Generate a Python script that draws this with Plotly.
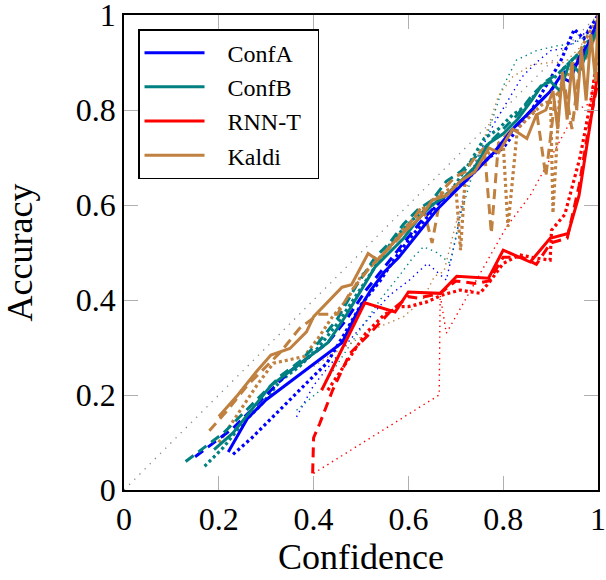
import plotly.graph_objects as go

# reliability curves: confidence (x) vs accuracy (y), four systems x four settings
systems = ["ConfA", "ConfB", "RNN-T", "Kaldi"]
colors = {"ConfA": "#0000ff", "ConfB": "#008080", "RNN-T": "#ff0000", "Kaldi": "#bf8040"}

# ---- ConfA ----
confa_solid_x = [0.22, 0.26, 0.30, 0.34, 0.38, 0.42, 0.46, 0.49, 0.52, 0.55, 0.58, 0.62, 0.66, 0.70,
                 0.74, 0.78, 0.82, 0.85, 0.88, 0.90, 0.92, 0.94, 0.96, 0.98, 1.0]
confa_solid_y = [0.08, 0.15, 0.19, 0.22, 0.25, 0.28, 0.31, 0.37, 0.42, 0.46, 0.49, 0.54, 0.59, 0.63,
                 0.67, 0.71, 0.76, 0.79, 0.82, 0.84, 0.87, 0.86, 0.91, 0.94, 0.99]
confa_dash_x = [0.15, 0.19, 0.23, 0.27, 0.31, 0.35, 0.39, 0.43, 0.47, 0.51, 0.55, 0.59, 0.63, 0.67,
                0.71, 0.75, 0.79, 0.83, 0.87, 0.90, 0.93, 0.96, 0.98, 1.0]
confa_dash_y = [0.07, 0.10, 0.13, 0.17, 0.21, 0.25, 0.28, 0.31, 0.36, 0.42, 0.47, 0.52, 0.57, 0.61,
                0.64, 0.68, 0.72, 0.77, 0.81, 0.84, 0.88, 0.90, 0.93, 0.98]
confa_dot_x = [0.23, 0.27, 0.30, 0.336, 0.37, 0.40, 0.428, 0.46, 0.50, 0.54, 0.58, 0.62, 0.66, 0.70,
               0.74, 0.77, 0.80, 0.83, 0.86, 0.89, 0.92, 0.95, 0.97, 1.0]
confa_dot_y = [0.075, 0.11, 0.14, 0.175, 0.21, 0.24, 0.267, 0.32, 0.39, 0.44, 0.50, 0.55, 0.60, 0.64,
               0.67, 0.70, 0.72, 0.76, 0.80, 0.85, 0.90, 0.97, 0.95, 1.0]
confa_thin_x = [0.364, 0.40, 0.44, 0.48, 0.52, 0.56, 0.60, 0.64, 0.68, 0.70, 0.72, 0.75, 0.78, 0.81,
                0.84, 0.87, 0.90, 0.93, 0.96, 0.98, 1.0]
confa_thin_y = [0.154, 0.22, 0.27, 0.32, 0.365, 0.41, 0.44, 0.477, 0.442, 0.53, 0.64, 0.71, 0.77, 0.82,
                0.87, 0.90, 0.925, 0.93, 0.95, 0.97, 1.0]

# ---- ConfB ----
confb_solid_x = [0.19, 0.23, 0.27, 0.31, 0.35, 0.39, 0.43, 0.47, 0.50, 0.53, 0.56, 0.59, 0.62, 0.65,
                 0.68, 0.71, 0.74, 0.77, 0.80, 0.83, 0.86, 0.88, 0.90, 0.92, 0.94, 0.96, 0.98, 1.0]
confb_solid_y = [0.085, 0.12, 0.17, 0.22, 0.25, 0.28, 0.31, 0.37, 0.42, 0.47, 0.50, 0.53, 0.57, 0.60,
                 0.62, 0.65, 0.68, 0.73, 0.75, 0.78, 0.82, 0.85, 0.86, 0.84, 0.90, 0.88, 0.93, 0.97]
confb_dash_x = [0.13, 0.17, 0.21, 0.25, 0.29, 0.33, 0.37, 0.41, 0.45, 0.49, 0.53, 0.56, 0.59, 0.62,
                0.65, 0.68, 0.71, 0.74, 0.77, 0.80, 0.83, 0.86, 0.89, 0.92, 0.95, 0.98, 1.0]
confb_dash_y = [0.06, 0.09, 0.12, 0.16, 0.20, 0.24, 0.27, 0.31, 0.36, 0.43, 0.49, 0.52, 0.56, 0.59,
                0.61, 0.65, 0.67, 0.70, 0.73, 0.76, 0.79, 0.83, 0.86, 0.88, 0.91, 0.93, 0.98]
confb_dot_x = [0.17, 0.21, 0.25, 0.29, 0.33, 0.37, 0.41, 0.45, 0.49, 0.53, 0.57, 0.61, 0.65, 0.69,
               0.73, 0.76, 0.79, 0.82, 0.85, 0.88, 0.91, 0.94, 0.97, 1.0]
confb_dot_y = [0.05, 0.09, 0.14, 0.18, 0.23, 0.26, 0.30, 0.35, 0.41, 0.47, 0.53, 0.57, 0.60, 0.63,
               0.69, 0.74, 0.76, 0.79, 0.81, 0.85, 0.87, 0.90, 0.93, 0.98]
confb_thin_x = [0.364, 0.414, 0.46, 0.50, 0.54, 0.58, 0.61, 0.632, 0.66, 0.688, 0.71, 0.74, 0.772, 0.80,
                0.828, 0.87, 0.913, 0.95, 0.98, 1.0]
confb_thin_y = [0.168, 0.21, 0.28, 0.34, 0.40, 0.45, 0.49, 0.512, 0.50, 0.477, 0.58, 0.68, 0.765, 0.85,
                0.905, 0.925, 0.935, 0.94, 0.96, 1.0]

# ---- RNN-T ----
rnnt_solid_x = [0.417, 0.508, 0.572, 0.60, 0.667, 0.702, 0.769, 0.80, 0.857, 0.899, 0.937, 0.96, 0.985, 1.0]
rnnt_solid_y = [0.21, 0.394, 0.375, 0.417, 0.414, 0.45, 0.446, 0.505, 0.48, 0.53, 0.54, 0.62, 0.78, 0.88]
rnnt_dash_x = [0.398, 0.40, 0.413, 0.44, 0.477, 0.519, 0.565, 0.60, 0.62, 0.667, 0.70, 0.74, 0.77, 0.80,
               0.84, 0.87, 0.90, 0.935, 0.96, 0.98, 1.0]
rnnt_dash_y = [0.035, 0.11, 0.14, 0.21, 0.288, 0.33, 0.379, 0.407, 0.404, 0.414, 0.44, 0.435, 0.44, 0.49,
               0.49, 0.475, 0.52, 0.53, 0.64, 0.76, 0.86]
rnnt_dot_x = [0.43, 0.47, 0.51, 0.55, 0.582, 0.60, 0.639, 0.67, 0.709, 0.751, 0.772, 0.80, 0.835, 0.87,
              0.899, 0.902, 0.93, 0.962, 0.985, 1.0]
rnnt_dot_y = [0.21, 0.27, 0.33, 0.37, 0.386, 0.386, 0.396, 0.41, 0.421, 0.414, 0.439, 0.477, 0.495, 0.488,
              0.484, 0.547, 0.58, 0.70, 0.82, 0.92]
rnnt_thin_x = [0.40, 0.665, 0.667, 0.68, 0.807, 0.857, 0.955, 0.985, 1.0]
rnnt_thin_y = [0.035, 0.20, 0.41, 0.33, 0.554, 0.62, 0.80, 0.815, 0.95]

# ---- Kaldi ----
kaldi_solid_x = [0.20, 0.24, 0.28, 0.31, 0.35, 0.385, 0.40, 0.435, 0.46, 0.48, 0.515, 0.535, 0.56, 0.58,
                 0.61, 0.63, 0.65, 0.68, 0.71, 0.74, 0.77, 0.79, 0.82, 0.85, 0.87, 0.89, 0.905, 0.915,
                 0.925, 0.935, 0.945, 0.955, 0.965, 0.975, 0.985, 0.995, 1.0]
kaldi_solid_y = [0.155, 0.20, 0.25, 0.284, 0.298, 0.333, 0.365, 0.40, 0.427, 0.432, 0.498, 0.484, 0.51, 0.533,
                 0.56, 0.58, 0.61, 0.62, 0.65, 0.67, 0.72, 0.71, 0.76, 0.74, 0.79, 0.80, 0.84, 0.76,
                 0.88, 0.78, 0.90, 0.80, 0.93, 0.82, 0.96, 0.86, 1.0]
kaldi_dash_x = [0.18, 0.22, 0.26, 0.30, 0.33, 0.37, 0.41, 0.45, 0.48, 0.52, 0.55, 0.58, 0.61, 0.63,
                0.65, 0.67, 0.70, 0.72, 0.74, 0.76, 0.775, 0.79, 0.81, 0.83, 0.85, 0.87, 0.89, 0.91,
                0.93, 0.945, 0.96, 0.98, 1.0]
kaldi_dash_y = [0.125, 0.17, 0.22, 0.26, 0.29, 0.34, 0.37, 0.37, 0.42, 0.47, 0.50, 0.53, 0.57, 0.60,
                0.52, 0.63, 0.66, 0.67, 0.70, 0.72, 0.54, 0.73, 0.75, 0.77, 0.79, 0.80, 0.66, 0.83,
                0.85, 0.76, 0.88, 0.92, 0.97]
kaldi_dot_x = [0.20, 0.24, 0.28, 0.315, 0.35, 0.38, 0.41, 0.44, 0.47, 0.50, 0.53, 0.56, 0.59, 0.62,
               0.65, 0.68, 0.70, 0.71, 0.72, 0.74, 0.77, 0.79, 0.80, 0.81, 0.83, 0.86, 0.88, 0.90,
               0.905, 0.92, 0.94, 0.96, 0.98, 1.0]
kaldi_dot_y = [0.10, 0.16, 0.22, 0.267, 0.275, 0.281, 0.32, 0.365, 0.40, 0.45, 0.48, 0.51, 0.55, 0.58,
               0.61, 0.63, 0.64, 0.505, 0.66, 0.68, 0.71, 0.72, 0.73, 0.554, 0.76, 0.79, 0.81, 0.82,
               0.583, 0.85, 0.88, 0.92, 0.96, 0.99]
kaldi_thin_x = [0.40, 0.43, 0.48, 0.53, 0.59, 0.63, 0.655, 0.675, 0.70, 0.73, 0.76, 0.79, 0.82, 0.86,
                0.90, 0.93, 0.96, 0.98, 1.0]
kaldi_thin_y = [0.26, 0.28, 0.31, 0.34, 0.365, 0.40, 0.45, 0.46, 0.56, 0.66, 0.74, 0.83, 0.87, 0.895,
                0.90, 0.90, 0.93, 0.96, 0.99]

# perfect calibration
diag_x = [0, 1]
diag_y = [0, 1]

ticks = [0, 0.2, 0.4, 0.6, 0.8, 1]
tick_text = ["0", "0.2", "0.4", "0.6", "0.8", "1"]

series = {
    "ConfA": [(confa_solid_x, confa_solid_y), (confa_dash_x, confa_dash_y),
              (confa_dot_x, confa_dot_y), (confa_thin_x, confa_thin_y)],
    "ConfB": [(confb_solid_x, confb_solid_y), (confb_dash_x, confb_dash_y),
              (confb_dot_x, confb_dot_y), (confb_thin_x, confb_thin_y)],
    "RNN-T": [(rnnt_solid_x, rnnt_solid_y), (rnnt_dash_x, rnnt_dash_y),
              (rnnt_dot_x, rnnt_dot_y), (rnnt_thin_x, rnnt_thin_y)],
    "Kaldi": [(kaldi_solid_x, kaldi_solid_y), (kaldi_dash_x, kaldi_dash_y),
              (kaldi_dot_x, kaldi_dot_y), (kaldi_thin_x, kaldi_thin_y)],
}
# (width, dash) for solid / dashed / thick dotted / thin dotted
styles = [(3, "solid"), (3, "10px,6px"), (3.2, "3px,3px"), (1.4, "1.4px,4px")]

NB = "\u00a0"

fig = go.Figure()
fig.add_trace(go.Scatter(x=diag_x, y=diag_y, mode="lines", showlegend=False,
                         line=dict(color="#888888", width=1.3, dash="1.3px,6px")))

for k in [3, 2, 1, 0]:
    for rank, name in enumerate(systems):
        xs, ys = series[name][k]
        width, dash = styles[k]
        fig.add_trace(go.Scatter(
            x=xs, y=ys, mode="lines",
            name=NB * 3 + name + NB * 2,
            line=dict(color=colors[name], width=width, dash=dash),
            showlegend=(k == 0), legendrank=rank + 1,
        ))

axis_common = dict(
    range=[0, 1], tickvals=ticks, ticktext=tick_text,
    showgrid=False, zeroline=False, automargin=False,
    showline=True, linecolor="black", linewidth=1.6, mirror="ticks",
    ticks="inside", ticklen=14, tickwidth=1.3, tickcolor="#b0b0b0",
    tickfont=dict(size=32, color="black"), ticklabeloverflow="allow",
)

fig.update_layout(
    width=606, height=580,
    margin=dict(l=124, r=8, t=15, b=90),
    paper_bgcolor="white", plot_bgcolor="white",
    font=dict(family="Liberation Serif", color="black"),
    xaxis=dict(axis_common, title=dict(text="Confidence", font=dict(size=36), standoff=8)),
    yaxis=dict(axis_common, title=dict(text="Accuracy", font=dict(size=36), standoff=48)),
    legend=dict(
        x=0.03, y=0.97, xanchor="left", yanchor="top",
        bgcolor="white", bordercolor="black", borderwidth=1.3,
        font=dict(size=24, color="black"), itemwidth=60,
        tracegroupgap=0,
    ),
)

# drop the page's default 8px body margin so the figure sits at the window corner
fig.write_html("out.html", config={"displayModeBar": False},
               post_script="document.body.style.margin='0';")
